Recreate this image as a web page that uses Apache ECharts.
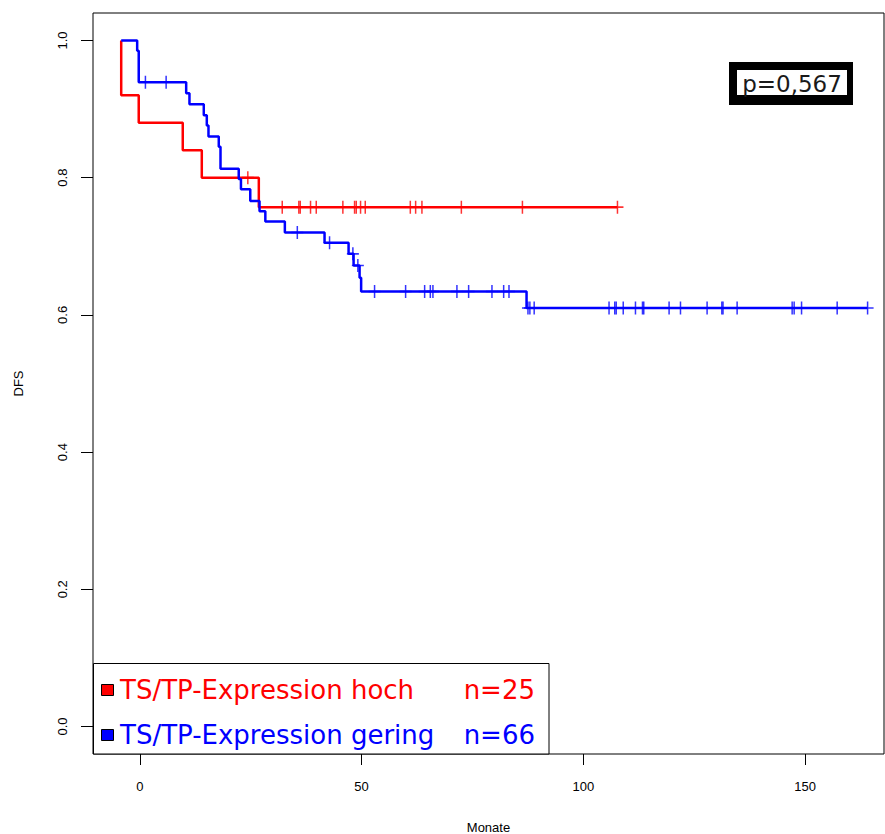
<!DOCTYPE html>
<html>
<head>
<meta charset="utf-8">
<script src="https://cdn.jsdelivr.net/npm/echarts@6/dist/echarts.min.js"></script>
<style>html,body{margin:0;padding:0;background:#fff;}#c{width:885px;height:834px;}</style>
</head>
<body>
<div id="c"></div>
<script>
// ---- data ----
const redTimes = [-4.2, -4.2, -0.25, 9.68, 13.97, 26.83, 107.7];
const redSurv  = [1.0, 0.92, 0.88, 0.84, 0.80, 0.757, 0.757];
const redCensor = [24.35, 32.11, 35.85, 36.17, 38.49, 39.78, 45.78, 48.42, 48.8, 49.77, 50.83, 60.99, 62.19, 63.61, 72.5, 86.27, 107.7];

const blueTimes = [-4.2, -0.6, -0.25, 10.45, 11.19, 14.42, 15.1, 15.48, 17.8, 18.19, 22.3, 22.8, 24.9, 26.99, 28.3, 32.7, 41.65, 47.07, 48.2, 49.55, 49.9, 87.2, 164.1];
const blueSurv  = [1.0, 0.985, 0.939, 0.923, 0.907, 0.891, 0.876, 0.860, 0.845, 0.813, 0.798, 0.783, 0.766, 0.751, 0.736, 0.720, 0.705, 0.689, 0.672, 0.654, 0.634, 0.610, 0.610];
const blueCensor = [1.26, 5.93, 35.51, 42.78, 48.04, 49.16, 52.93, 59.93, 64.22, 65.5, 66.09, 71.5, 74.14, 79.4, 82.04, 83.24, 87.52, 87.95, 88.92, 105.8, 107.09, 107.42, 109.0, 111.76, 113.34, 113.63, 119.34, 121.91, 127.91, 131.23, 131.5, 134.68, 147.09, 147.54, 149.21, 157.24, 164.1];

const xTicks = [0, 50, 100, 150];
const yTicks = [0, 0.2, 0.4, 0.6, 0.8, 1.0];
const legendLabels = ['TS/TP-Expression hoch', 'TS/TP-Expression gering'];
const legendN = ['n=25', 'n=66'];
const pText = 'p=0,567';

// ---- helpers ----
function survAt(t, times, surv) {
  let v = surv[0];
  for (let i = 0; i < times.length; i++) { if (times[i] <= t) v = surv[i]; }
  return v;
}
const zipSteps = (times, surv) => times.map((t, i) => [t, surv[i]]);
const censorPts = (cs, times, surv) => cs.map(t => [t, survAt(t, times, surv)]);

const RED = '#ff0000', BLUE = '#0000ff';
const plusSym = 'path://M0,5.25h12v1.5h-12z M5.25,0h1.5v12h-1.5z';
const FONT = 'Liberation Sans, Arial, sans-serif';
const LFONT = '26px "DejaVu Sans", Verdana, sans-serif';

const chart = echarts.init(document.getElementById('c'), null, {renderer: 'svg'});
chart.setOption({
  animation: false,
  backgroundColor: '#fff',
  grid: {left: 93, top: 13, right: 1, bottom: 80, show: true, borderColor: '#000', borderWidth: 1,
    backgroundColor: 'transparent', containLabel: false, outerBoundsMode: 'none'},
  xAxis: {
    type: 'value', min: -10.56, max: 167.8,
    axisLine: {show: false, onZero: false},
    splitLine: {show: false},
    axisTick: {show: true, length: 11, inside: false, customValues: xTicks, lineStyle: {color: '#000', width: 1}},
    axisLabel: {customValues: xTicks, margin: 26, color: '#000', fontSize: 13, fontFamily: FONT},
    name: 'Monate', nameLocation: 'middle', nameGap: 67,
    nameTextStyle: {color: '#000', fontSize: 13, fontFamily: FONT}
  },
  yAxis: {
    type: 'value', min: -0.04, max: 1.04,
    axisLine: {show: false, onZero: false},
    splitLine: {show: false},
    axisTick: {show: true, length: 12, inside: false, customValues: yTicks, lineStyle: {color: '#000', width: 1}},
    axisLabel: {customValues: yTicks, rotate: 90, margin: 24, color: '#000', fontSize: 13, fontFamily: FONT,
      formatter: v => Number(v).toFixed(1)},
    name: 'DFS', nameLocation: 'middle', nameGap: 68,
    nameTextStyle: {color: '#000', fontSize: 13, fontFamily: FONT}
  },
  series: [
    {type: 'line', data: zipSteps(redTimes, redSurv), step: 'end', showSymbol: false, symbol: 'none',
      lineStyle: {color: RED, width: 2.5}, z: 2},
    {type: 'scatter', data: censorPts(redCensor, redTimes, redSurv), symbol: plusSym, symbolSize: [12, 13],
      itemStyle: {color: RED}, z: 3},
    {type: 'line', data: zipSteps(blueTimes, blueSurv), step: 'end', showSymbol: false, symbol: 'none',
      lineStyle: {color: BLUE, width: 2.5}, z: 4},
    {type: 'scatter', data: censorPts(blueCensor, blueTimes, blueSurv), symbol: plusSym, symbolSize: [12, 13],
      itemStyle: {color: BLUE}, z: 5}
  ],
  graphic: [
    // p-value box
    {type: 'rect', shape: {x: 729, y: 62, width: 124, height: 43}, style: {fill: '#000'}, z: 10},
    {type: 'rect', shape: {x: 737, y: 70, width: 110, height: 25}, style: {fill: '#fff'}, z: 11},
    {type: 'text', x: 792, y: 84, z: 12, style: {text: pText, fill: '#1a1a1a', font: '23px "DejaVu Sans", Verdana, sans-serif', align: 'center', verticalAlign: 'middle'}},
    // legend box
    {type: 'rect', shape: {x: 93.5, y: 663.5, width: 455.5, height: 90.5}, style: {fill: '#fff', stroke: '#000', lineWidth: 1}, z: 10},
    {type: 'rect', shape: {x: 101.5, y: 684.5, width: 12, height: 11}, style: {fill: RED, stroke: '#000', lineWidth: 1}, z: 11},
    {type: 'rect', shape: {x: 101.5, y: 729.5, width: 12, height: 11}, style: {fill: BLUE, stroke: '#000', lineWidth: 1}, z: 11},
    {type: 'text', x: 120, y: 690, z: 11, style: {text: legendLabels[0], fill: RED, font: LFONT, align: 'left', verticalAlign: 'middle'}},
    {type: 'text', x: 120, y: 735, z: 11, style: {text: legendLabels[1], fill: BLUE, font: LFONT, align: 'left', verticalAlign: 'middle'}},
    {type: 'text', x: 535, y: 690, z: 11, style: {text: legendN[0], fill: RED, font: LFONT, align: 'right', verticalAlign: 'middle'}},
    {type: 'text', x: 535, y: 735, z: 11, style: {text: legendN[1], fill: BLUE, font: LFONT, align: 'right', verticalAlign: 'middle'}}
  ]
});
</script>
</body>
</html>
